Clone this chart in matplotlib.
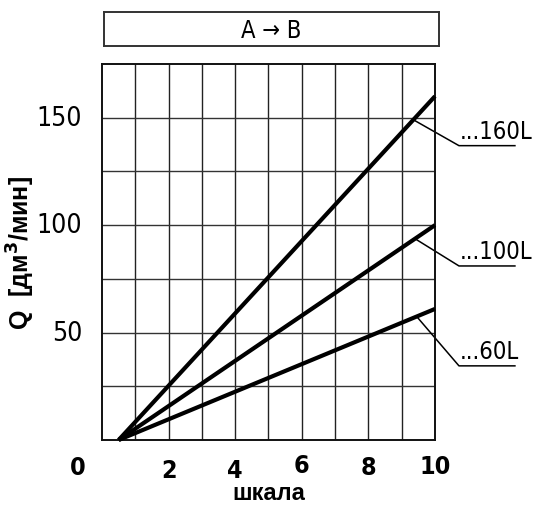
import matplotlib
matplotlib.use("Agg")
import matplotlib.pyplot as plt

# data
x_start = 0.5
x_end = 10
series_names = ["...160L", "...100L", "...60L"]
series_end = [160, 100, 61]
leader_x = [9.35, 9.4, 9.45]
label_y = [137, 81, 34.5]

x_tick_vals = [0, 2, 4, 6, 8, 10]
x_tick_pos = [-0.72, 2, 4, 6, 8, 10]
x_tick_offsets = [-12.4, -13.8, -14.2, -11.8, -12.4, -12.2]
y_tick_vals = [50, 100, 150]

narrow = ["DejaVu Sans"]

fig = plt.figure(figsize=(5.34, 5.06), dpi=100)
ax = fig.add_axes([0.191, 0.1285, 0.6236, 0.743])
ax.set_xlim(0, 10)
ax.set_ylim(0, 175)

for v in range(1, 10):
    ax.axvline(v, color="#222222", lw=1.0, zorder=1)
for v in range(25, 175, 25):
    ax.axhline(v, color="#333333", lw=1.0, zorder=1)
for s in ax.spines.values():
    s.set_linewidth(1.4)
    s.set_color("#111111")

ax.set_xticks([])
ax.set_yticks([])

for name, yend, lx, ly in zip(series_names, series_end, leader_x, label_y):
    ax.plot([x_start, x_end], [0, yend], color="black", lw=3, zorder=3,
            solid_capstyle="butt", clip_on=False)
    ly0 = yend * (lx - x_start) / (x_end - x_start)
    ax.plot([lx, 10.72, 12.4], [ly0, ly, ly], color="black", lw=1.1,
            zorder=2, clip_on=False)
    ax.text(10.75, ly + 1.2, name, fontsize=17, family=narrow,
            fontstretch="condensed", ha="left", va="bottom", clip_on=False)

for v, xp, off in zip(x_tick_vals, x_tick_pos, x_tick_offsets):
    ax.text(xp, off, str(v), fontsize=18, family=narrow, fontweight="bold",
            fontstretch="condensed", ha="center", va="center")
for v in y_tick_vals:
    ax.text(-0.6, v, str(v), fontsize=19, family=narrow,
            fontstretch="condensed", ha="right", va="center")

ax.text(5, -24.6, "шкала", fontsize=17, fontweight="bold",
        family=["Liberation Sans", "DejaVu Sans"], ha="center", va="center")
ax.text(-2.45, 87.5, "Q  [дм$^\\mathbf{3}$/мин]", fontsize=18, fontweight="bold",
        family=["Liberation Sans", "DejaVu Sans"], rotation=90,
        ha="center", va="center")

# header box
box = fig.add_axes([0.195, 0.9075, 0.627, 0.067])
box.set_xticks([])
box.set_yticks([])
for s in box.spines.values():
    s.set_linewidth(1.4)
    s.set_color("#333333")
box.text(0.5, 0.47, "A \u2192 B", fontsize=17, family=narrow,
         fontstretch="condensed", ha="center", va="center")

fig.savefig("out.png", dpi=100)
